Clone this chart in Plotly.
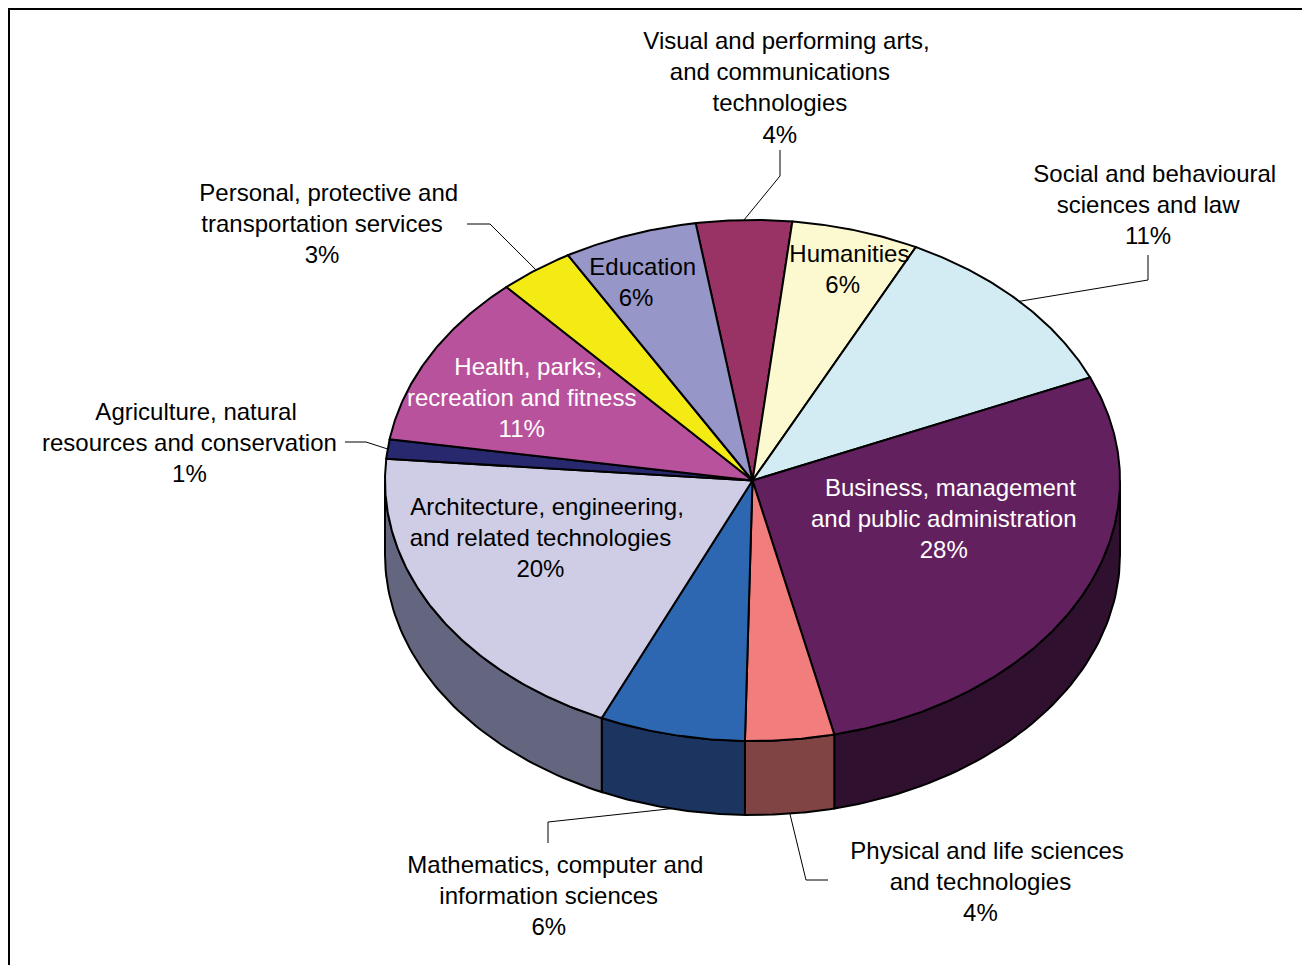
import numpy as np
import plotly.graph_objects as go

# ---------------- data (clockwise from the top) ----------------
categories = [
    "Visual and performing arts,<br>and communications<br>technologies",
    "Humanities",
    "Social and behavioural<br>sciences and law",
    "Business, management<br>and public administration",
    "Physical and life sciences<br>and technologies",
    "Mathematics, computer and<br>information sciences",
    "Architecture, engineering,<br>and related technologies",
    "Agriculture, natural<br>resources and conservation",
    "Health, parks,<br>recreation and fitness",
    "Personal, protective and<br>transportation services",
    "Education",
]
values = [4.2, 5.6, 11.2, 27.9, 3.9, 6.4, 19.6, 1.2, 10.8, 3.3, 5.9]

# ---------------- styles ----------------
top_colors = ["#993366", "#FCF8CF", "#D3ECF3", "#63205F", "#F27D7D", "#2E67B1",
              "#CFCCE6", "#28286E", "#B8529C", "#F5EB14", "#9696C8"]
side_colors = ["#4C1933", "#7E7C67", "#697679", "#30102F", "#804444", "#1C3560",
               "#646680", "#141437", "#5C294E", "#7A750A", "#4B4B64"]
text_colors = ["black", "black", "black", "white", "black", "black",
               "black", "black", "white", "black", "black"]

CX, CY, RX, RY, DEPTH = 752.5, 480.5, 367.5, 260.5, 74.0
START = 98.9  # degrees, parametric angle of first slice edge

# label block centres (layout)
label_pos = [(780, 87), (842, 269), (1148, 204), (944, 518), (980, 881), (548, 895),
             (540, 537), (189, 442), (521, 397), (322, 223), (636, 282)]
# leader lines: list of bend/end points (layout); start point computed on pie edge
leaders = {
    0: [(780, 176), (780, 150)],
    2: [(1148, 280), (1148, 255)],
    9: [(490, 224), (467, 224)],
    7: [(366, 442), (345, 442)],
    5: [(548, 822), (548, 843)],
    4: [(806, 880), (828, 880)],
}

def pt(t_deg, dy=0.0):
    t = np.radians(t_deg)
    return CX + RX * np.cos(t), CY - RY * np.sin(t) + dy

total = sum(values)
edges = [START]
for v in values:
    edges.append(edges[-1] - 360.0 * v / total)

fig = go.Figure()

# side walls (front half: angles between -180 and 0, modulo 360)
for i, v in enumerate(values):
    a1, a2 = edges[i], edges[i + 1]  # a1 > a2
    for shift in (0, -360, 360):
        lo = max(a2 + shift, -180.0)
        hi = min(a1 + shift, 0.0)
        if hi - lo > 1e-6:
            ts = np.linspace(hi, lo, 60)
            xs_top, ys_top = pt(ts)
            xs_bot, ys_bot = pt(ts[::-1], DEPTH)
            xs = np.concatenate([xs_top, xs_bot, xs_top[:1]])
            ys = np.concatenate([ys_top, ys_bot, ys_top[:1]])
            fig.add_trace(go.Scatter(x=xs, y=ys, mode="lines", fill="toself",
                                     fillcolor=side_colors[i],
                                     line=dict(color="black", width=2),
                                     hoverinfo="skip", showlegend=False))

# top faces
for i, v in enumerate(values):
    a1, a2 = edges[i], edges[i + 1]
    ts = np.linspace(a1, a2, max(8, int((a1 - a2) * 2)))
    xs, ys = pt(ts)
    xs = np.concatenate([[CX], xs, [CX]])
    ys = np.concatenate([[CY], ys, [CY]])
    fig.add_trace(go.Scatter(x=xs, y=ys, mode="lines", fill="toself",
                             fillcolor=top_colors[i],
                             line=dict(color="black", width=2),
                             hoverinfo="skip", showlegend=False,
                             name=categories[i].replace("<br>", " ")))

# leader lines
for i, pts in leaders.items():
    mid = (edges[i] + edges[i + 1]) / 2.0
    s = np.sin(np.radians(mid))
    x0, y0 = pt(mid, DEPTH if s < 0 else 0.0)
    xs = [x0] + [p[0] for p in pts]
    ys = [y0] + [p[1] for p in pts]
    fig.add_trace(go.Scatter(x=xs, y=ys, mode="lines",
                             line=dict(color="black", width=1),
                             hoverinfo="skip", showlegend=False))

# labels (first line carries a small leading indent, as in the original)
for i, v in enumerate(values):
    pct = int(round(100.0 * v / total))
    txt = "\u00a0\u00a0" + categories[i] + f"<br>{pct}%"
    fig.add_annotation(x=label_pos[i][0], y=label_pos[i][1], xref="x", yref="y",
                       text=txt, showarrow=False,
                       align="center", xanchor="center", yanchor="middle",
                       font=dict(family="Liberation Sans, Arial, sans-serif",
                                 size=24, color=text_colors[i]))

# chart border
fig.add_shape(type="rect", xref="x", yref="y", x0=9, y0=9, x1=1340, y1=1010,
              line=dict(color="black", width=2), fillcolor="rgba(0,0,0,0)",
              layer="above")

# page body has an 8px margin, so shift the axis window to keep page pixels aligned
fig.update_xaxes(range=[8, 1318], visible=False, fixedrange=True)
fig.update_yaxes(range=[973, 8], visible=False, fixedrange=True)
fig.update_layout(width=1310, height=965, margin=dict(l=0, r=0, t=0, b=0),
                  paper_bgcolor="white", plot_bgcolor="white", showlegend=False)

fig.write_html("out.html")
